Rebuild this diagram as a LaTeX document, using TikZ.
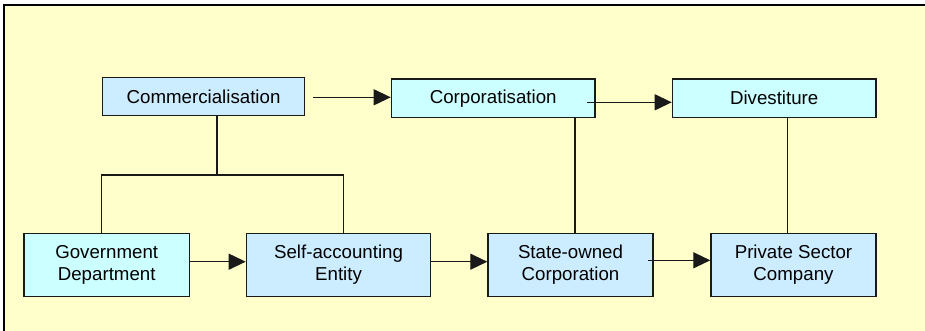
\documentclass[tikz,border=0pt]{standalone}
\usepackage{fontspec}
\setmainfont{Liberation Sans}
\usetikzlibrary{arrows.meta}
\definecolor{bgyellow}{HTML}{FFFFCC}
\definecolor{boxcyan}{HTML}{CCFFFF}
\definecolor{boxblue}{HTML}{CCECFF}
\definecolor{boxline}{HTML}{1A1A1A}
\tikzset{
  stagebox/.style={draw=boxline, line width=1.4pt, inner sep=0pt, anchor=north west,
    font=\fontsize{18.7}{21.5}\selectfont, align=center},
  conn/.style={line width=1.3pt, draw=black!90},
  arr/.style={conn, -{Triangle[length=17pt,width=16pt]}},
}
\begin{document}
\begin{tikzpicture}[x=1pt,y=-1pt]
\useasboundingbox (0,0) rectangle (925,330);
\clip (0,0) rectangle (925,330);
\fill[white] (0,0) rectangle (925,330);
\fill[bgyellow] (4,5) rectangle (930,335);
\draw[line width=2.4pt] (4,340) -- (4,5) -- (930,5);
% top row
\node[stagebox, fill=boxblue, minimum width=202.3pt, minimum height=38.3pt] (comm) at (101.7,76.7) {Commercialisation};
\node[stagebox, fill=boxcyan, minimum width=203.6pt, minimum height=38.4pt] (corp) at (390.7,78.3) {Corporatisation};
\node[stagebox, fill=boxcyan, minimum width=203.6pt, minimum height=38.4pt] (dive) at (671.7,78.3) {Divestiture};
% bottom row
\node[stagebox, fill=boxcyan, minimum width=165.4pt, minimum height=63pt] (gov) at (23.3,232.5) {Government\\Department};
\node[stagebox, fill=boxblue, minimum width=184.3pt, minimum height=63pt] (self) at (245.7,232.5) {Self-accounting\\Entity};
\node[stagebox, fill=boxblue, minimum width=165pt, minimum height=63pt] (state) at (487.3,232.7) {State-owned\\Corporation};
\node[stagebox, fill=boxblue, minimum width=165pt, minimum height=63pt] (priv) at (710.3,232.7) {Private Sector\\Company};
% junction
\coordinate (j) at (217,175);
\draw[conn] (comm.south -| j) -- (j);
\draw[conn] (gov.north -| 101.3,0) |- (j) -| (self.north -| 343.3,0);
\draw[conn] (corp.south -| 575,0) -- (state.north -| 575,0);
\draw[conn] (dive.south -| 787.7,0) -- (priv.north -| 787.7,0);
% arrows
\coordinate (a1) at (313,97.3);
\draw[arr] (a1) -- (a1 -| corp.west);
\coordinate (a2) at (587.3,102.3);
\draw[arr] (a2) -- (a2 -| dive.west);
\coordinate (a3) at (0,261.7);
\draw[arr] (a3 -| gov.east) -- (a3 -| self.west);
\draw[arr] (a3 -| self.east) -- (a3 -| state.west);
\coordinate (a4) at (648.3,260.3);
\draw[arr] (a4) -- (a4 -| priv.west);
\end{tikzpicture}
\end{document}
